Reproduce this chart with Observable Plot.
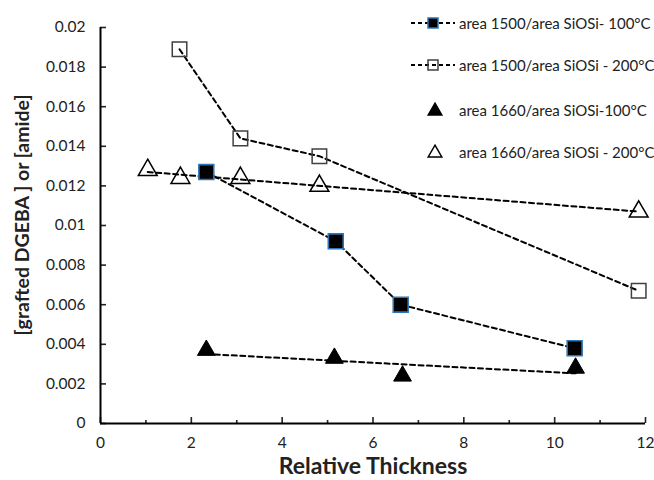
<!DOCTYPE html>
<html>
<head>
<meta charset="utf-8">
<script src="https://cdn.jsdelivr.net/npm/d3@7"></script>
<script src="https://cdn.jsdelivr.net/npm/@observablehq/plot@0.6"></script>
<style>
  html, body { margin: 0; padding: 0; background: #fff; }
  #wrap { position: relative; width: 654px; height: 480px; font-family: Lato, "Open Sans", sans-serif; }
  #legend { position: absolute; left: 408px; top: 0; }
  .row { position: absolute; left: 0; height: 20px; display: flex; align-items: center; white-space: nowrap; font-size: 15px; color: #222; }
  .row svg { margin-right: 3px; }
</style>
</head>
<body>
<div id="wrap"><div id="legend"></div></div>
<script>
const seriesNames = [
  "area 1500/area SiOSi- 100°C",
  "area 1500/area SiOSi - 200°C",
  "area 1660/area SiOSi-100°C",
  "area 1660/area SiOSi - 200°C"
];
const x1500_100 = [2.33, 5.18, 6.61, 10.44];
const y1500_100 = [0.0127, 0.0092, 0.0060, 0.0038];
const x1500_200 = [1.74, 3.08, 4.82, 11.85];
const y1500_200 = [0.0189, 0.0144, 0.0135, 0.0067];
const x1660_100 = [2.33, 5.15, 6.65, 10.46];
const y1660_100 = [0.0037, 0.0033, 0.0024, 0.0028];
const x1660_200 = [1.04, 1.76, 3.08, 4.82, 11.85];
const y1660_200 = [0.0128, 0.0124, 0.0124, 0.0120, 0.0107];
const xTicks = [0, 2, 4, 6, 8, 10, 12];
const xMinorTicks = [1, 3, 5, 7, 9, 11];
const yTicks = [0, 0.002, 0.004, 0.006, 0.008, 0.01, 0.012, 0.014, 0.016, 0.018, 0.02];
const xTitle = "Relative Thickness";
const yTitle = "[grafted DGEBA ] or [amide]";

const toRows = (xs, ys) => xs.map((x, i) => ({x, y: ys[i]}));
const s1 = toRows(x1500_100, y1500_100);
const s2 = toRows(x1500_200, y1500_200);
const s3 = toRows(x1660_100, y1660_100);
const s4 = toRows(x1660_200, y1660_200);

const dash = "5,3.5";
const blue = "#2E75B6";
const fmt = d => String(+d.toFixed(3));

const chart = Plot.plot({
  width: 654,
  height: 480,
  marginLeft: 100,
  marginRight: 9,
  marginTop: 27,
  marginBottom: 57,
  style: {fontFamily: "Lato, 'Open Sans', sans-serif", background: "#fff", color: "#222"},
  x: {domain: [0, 12]},
  y: {domain: [0, 0.02]},
  marks: [
    Plot.axisY(yTicks, {tickSize: 0, tickPadding: 15, tickFormat: fmt, fontSize: 15.5, label: null}),
    Plot.axisY(yTicks, {tickSize: -6, tickFormat: () => "", strokeWidth: 1.6, label: null}),
    Plot.axisX(xTicks, {tickSize: 0, tickPadding: 13, tickFormat: d => String(d), fontSize: 15.5, label: null}),
    Plot.axisX(xTicks, {tickSize: -6, tickFormat: () => "", strokeWidth: 1.6, label: null}),
    Plot.axisX(xMinorTicks, {tickSize: -3, tickFormat: () => "", strokeWidth: 1.6, label: null}),
    Plot.ruleX([0], {stroke: "#000", strokeWidth: 2}),
    Plot.ruleY([0], {stroke: "#000", strokeWidth: 2}),
    Plot.line(s1, {x: "x", y: "y", stroke: "#000", strokeWidth: 2, strokeDasharray: dash}),
    Plot.line(s2, {x: "x", y: "y", stroke: "#000", strokeWidth: 2, strokeDasharray: dash}),
    Plot.linearRegressionY(s3, {x: "x", y: "y", stroke: "#000", strokeWidth: 2, strokeDasharray: dash, ci: 0}),
    Plot.linearRegressionY(s4, {x: "x", y: "y", stroke: "#000", strokeWidth: 2, strokeDasharray: dash, ci: 0}),
    Plot.dot(s1, {x: "x", y: "y", symbol: "square", r: 8.4, fill: "#000", stroke: blue, strokeWidth: 1.6}),
    Plot.dot(s2, {x: "x", y: "y", symbol: "square", r: 8.2, fill: "none", stroke: "#404040", strokeWidth: 1.5}),
    Plot.dot(s3, {x: "x", y: "y", symbol: "triangle", r: 6.6, fill: "#000", stroke: "#000", strokeWidth: 1}),
    Plot.dot(s4, {x: "x", y: "y", symbol: "triangle", r: 7, fill: "none", stroke: "#000", strokeWidth: 1.5}),
    Plot.text([xTitle], {frameAnchor: "bottom", dy: 43, lineAnchor: "middle", fontSize: 23, fontWeight: "bold", fill: "#222"})
  ]
});
document.getElementById("wrap").prepend(chart);

// Rotated y-axis title
d3.select(chart).append("text")
  .attr("transform", "translate(21,215) rotate(-90)")
  .attr("text-anchor", "middle")
  .attr("dominant-baseline", "central")
  .attr("font-size", 19.5)
  .attr("font-weight", "bold")
  .attr("fill", "#222")
  .text(yTitle);

// Legend overlay
const legendRows = [
  {y: 13, sym: "square", fill: "#000", stroke: blue, line: true},
  {y: 55, sym: "square", fill: "none", stroke: "#404040", line: true},
  {y: 100, sym: "triangle", fill: "#000", stroke: "#000", line: false},
  {y: 142, sym: "triangle", fill: "none", stroke: "#000", line: false}
];
const legend = d3.select("#legend");
legendRows.forEach((r, i) => {
  const row = legend.append("div").attr("class", "row").style("top", r.y + "px");
  const svg = row.append("svg").attr("width", 48).attr("height", 20);
  if (r.line) svg.append("line").attr("x1", 3).attr("x2", 47).attr("y1", 10).attr("y2", 10)
    .attr("stroke", "#000").attr("stroke-width", 2).attr("stroke-dasharray", "4,3");
  const sym = r.sym === "square" ? d3.symbolSquare : d3.symbolTriangle;
  const size = r.sym === "square" ? 100 : 80;
  svg.append("path").attr("d", d3.symbol(sym, size)()).attr("transform", r.sym === "square" ? "translate(25,10)" : "translate(27,11)")
    .attr("fill", r.fill).attr("stroke", r.stroke).attr("stroke-width", 1.5);
  row.append("span").text(seriesNames[i]);
});
</script>
</body>
</html>
